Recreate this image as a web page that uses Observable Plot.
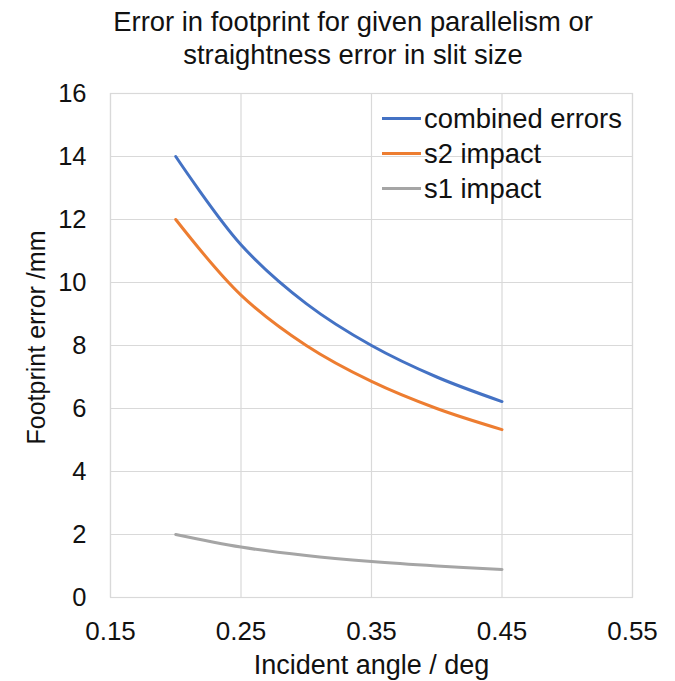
<!DOCTYPE html>
<html>
<head>
<meta charset="utf-8">
<script src="https://cdn.jsdelivr.net/npm/d3@7"></script>
<script src="https://cdn.jsdelivr.net/npm/@observablehq/plot@0.6"></script>
<style>
  html, body { margin: 0; padding: 0; background: #fff; }
  body { width: 675px; height: 681px; overflow: hidden; font-family: "Liberation Sans", Arial, sans-serif; }
  #wrap { position: relative; width: 675px; }
  #title { text-align: center; font-size: 27.4px; line-height: 33px; padding-top: 5px; height: 65px; color: #111; padding-left: 31px; white-space: nowrap; }
  #legend { position: absolute; left: 382px; top: 101px; font-size: 27.4px; color: #111; }
  #legend .row { display: flex; align-items: center; height: 35px; }
  #legend .sw { width: 39px; height: 3px; margin-right: 3px; }
</style>
</head>
<body>
<div id="wrap">
  <div id="title">Error in footprint for given parallelism or<br>straightness error in slit size</div>
  <div id="chart"></div>
  <div id="legend"></div>
</div>
<script>
const angles = [0.20, 0.25, 0.30, 0.35, 0.40, 0.45];
const combinedErrors = [14.0, 11.2, 9.33, 8.0, 7.0, 6.22];
const s2Impact = [12.0, 9.6, 8.0, 6.86, 6.0, 5.33];
const s1Impact = [2.0, 1.6, 1.33, 1.14, 1.0, 0.89];
const seriesNames = ["combined errors", "s2 impact", "s1 impact"];
const seriesColors = ["#4472C4", "#ED7D31", "#A5A5A5"];
const xTicks = [0.15, 0.25, 0.35, 0.45, 0.55];
const yTicks = [0, 2, 4, 6, 8, 10, 12, 14, 16];

const seriesValues = [combinedErrors, s2Impact, s1Impact];
const rows = [];
seriesNames.forEach((name, i) => {
  angles.forEach((a, j) => rows.push({series: name, angle: a, value: seriesValues[i][j]}));
});

const chart = Plot.plot({
  width: 675,
  height: 611,
  marginTop: 23,
  marginBottom: 84,
  marginLeft: 110,
  marginRight: 43,
  style: {fontFamily: "Liberation Sans, Arial, sans-serif", fontSize: "25px", color: "#111", background: "#fff"},
  x: {domain: [0.15, 0.55], ticks: xTicks, tickFormat: d3.format(".2f"), label: null},
  y: {domain: [0, 16], ticks: yTicks, label: null},
  color: {domain: seriesNames, range: seriesColors},
  marks: [
    Plot.gridX(xTicks, {stroke: "#d9d9d9", strokeOpacity: 1, strokeWidth: 1.2}),
    Plot.gridY(yTicks, {stroke: "#d9d9d9", strokeOpacity: 1, strokeWidth: 1.2}),
    Plot.frame({stroke: "#d9d9d9", strokeWidth: 1.2}),
    Plot.axisX({ticks: xTicks, tickFormat: d3.format(".2f"), tickSize: 0, tickPadding: 24, label: null, fontSize: 26}),
    Plot.axisY({ticks: yTicks, tickSize: 0, tickPadding: 24, label: null, fontSize: 25.5}),
    Plot.text(["Incident angle / deg"], {frameAnchor: "bottom", lineAnchor: "middle", dy: 68, fontSize: 27}),
    Plot.text(["Footprint error /mm"], {frameAnchor: "left", textAnchor: "middle", lineAnchor: "middle", dx: -74, dy: -8, rotate: -90, fontSize: 25}),
    Plot.line(rows, {x: "angle", y: "value", z: "series", stroke: "series", strokeWidth: 3, curve: "catmull-rom"})
  ]
});
document.getElementById("chart").appendChild(chart);

const legend = document.getElementById("legend");
seriesNames.forEach((name, i) => {
  const r = document.createElement("div");
  r.className = "row";
  r.innerHTML = `<div class="sw" style="background:${seriesColors[i]}"></div><span>${name}</span>`;
  legend.appendChild(r);
});
</script>
</body>
</html>
